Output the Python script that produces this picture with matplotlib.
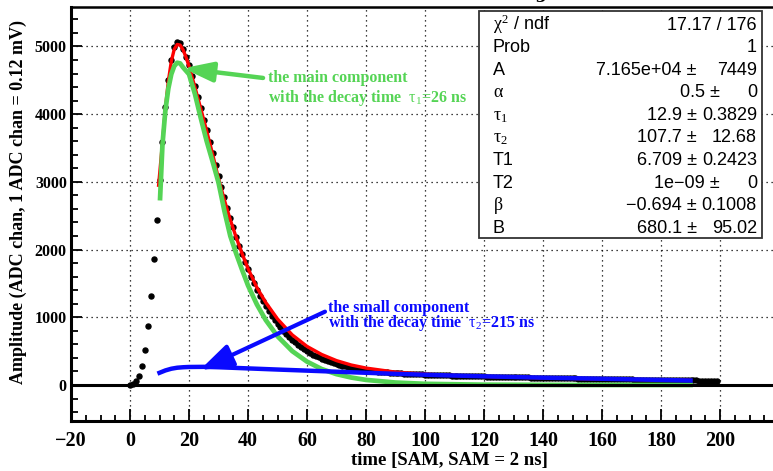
import numpy as np
import matplotlib
matplotlib.use('Agg')
import matplotlib.pyplot as plt
from matplotlib.patches import Rectangle

plt.rcParams['mathtext.fontset'] = 'custom'
plt.rcParams['mathtext.rm'] = 'Liberation Serif'
plt.rcParams['mathtext.it'] = 'Liberation Serif'
plt.rcParams['mathtext.bf'] = 'Liberation Serif:bold'

# ---- data ----
sam = list(range(200))
amp = [5, 18, 59, 133, 281, 517, 867, 1319, 1861, 2432,
       3030, 3590, 4100, 4510, 4800, 4990, 5060, 5050, 4970, 4850,
       4720, 4570, 4410, 4250, 4090, 3920, 3760, 3590, 3420, 3250,
       3090, 2930, 2770, 2620, 2470, 2330, 2190, 2060, 1940, 1820,
       1710, 1600, 1500, 1410, 1320, 1240, 1160, 1090, 1025, 965,
       905, 850, 800, 755, 710, 670, 630, 595, 560, 530,
       500, 475, 450, 428, 407, 388, 370, 353, 338, 323,
       310, 297, 285, 274, 264, 255, 246, 238, 231, 224,
       218, 212, 207, 202, 197, 193, 189, 185, 182, 178,
       175, 172, 170, 167, 165, 163, 161, 159, 157, 155,
       153, 151, 150, 148, 147, 146, 144, 143, 142, 140,
       139, 138, 136, 135, 134, 133, 131, 130, 129, 128,
       127, 125, 124, 123, 122, 121, 120, 119, 118, 117,
       116, 115, 114, 113, 112, 111, 110, 109, 108, 107,
       106, 105, 104, 103, 102, 101, 100, 99, 98, 98,
       97, 96, 95, 94, 93, 93, 92, 91, 90, 89,
       89, 88, 87, 86, 86, 85, 84, 83, 83, 82,
       81, 80, 80, 79, 78, 78, 77, 76, 76, 75,
       74, 74, 73, 72, 72, 71, 70, 70, 69, 69,
       68, 67, 67, 66, 66, 65, 65, 64, 64, 63]

# total fit (red)
fit_x = [9.7, 11, 12, 13, 14, 15, 16, 17, 18, 19, 20, 22, 24, 26, 28, 30,
         32, 34, 36, 38, 40, 43, 46, 50, 55, 60, 65, 70, 75, 80, 90, 100,
         110, 120, 140, 160, 190]
fit_tot = [2950, 3580, 4090, 4490, 4780, 4960, 5030, 5020, 4950, 4840, 4710,
           4400, 4080, 3750, 3410, 3050, 2730, 2440, 2180, 1940, 1720, 1440,
           1220, 975, 740, 570, 450, 360, 295, 250, 190, 160, 140, 126, 105,
           88, 68]

# main component (green)
main_x = [10.2, 11, 12, 13, 14, 15, 16, 17, 18, 20, 22, 24, 26, 28, 30, 32,
          34, 36, 38, 40, 43, 46, 50, 55, 60, 65, 70, 75, 80, 90, 100, 120,
          150, 190]
main_y = [2760, 3550, 4060, 4380, 4590, 4710, 4760, 4750, 4690, 4590, 4300,
          3940, 3600, 3300, 2990, 2570, 2200, 1940, 1700, 1470, 1190, 960,
          720, 500, 345, 235, 160, 110, 75, 36, 17, 4, 0, 0]

# small component (blue)
small_x = [10, 12, 14, 16, 18, 20, 25, 30, 40, 50, 60, 75, 90, 105, 120, 140,
           160, 190]
small_y = [180, 215, 240, 255, 262, 266, 268, 262, 245, 228, 212, 188, 165,
           145, 128, 108, 92, 66]

stat_names = [r'$\chi^2$ / ndf', 'Prob', 'A', r'$\alpha$', r'$\tau_1$',
              r'$\tau_2$', 'T1', 'T2', r'$\beta$', 'B']
stat_vals = ['17.17 / 176', '1', '7.165e+04', '0.5', '12.9', '107.7',
             '6.709', '1e\u221209', '\u22120.694', '680.1']
stat_errs = [None, None, '7449', '0', '0.3829', '12.68', '0.2423', '0',
             '0.1008', '95.02']

W, H = 773, 471
def fx(p):
    return p / W
def fy(p):
    return 1 - p / H

fig = plt.figure(figsize=(W / 100, H / 100), dpi=100)
ax = fig.add_axes([fx(71), fy(421), (779 - 71) / W, (421 - 7) / H])
ax.set_xlim(-20, 220)
ax.set_ylim(-532, 5583)

serif = 'Liberation Serif'
sans = 'Liberation Sans'

ax.grid(True, which='major', linestyle=(0, (1, 3)), color='k', lw=0.9)
ax.set_axisbelow(True)
ax.set_xticks(range(-20, 201, 20))
ax.set_xticks(range(-20, 221, 5), minor=True)
ax.set_yticks(range(0, 5001, 1000))
ax.set_yticks(range(-400, 5600, 200), minor=True)
ax.tick_params(which='both', direction='in', width=1.3, colors='k')
ax.tick_params(axis='x', which='major', length=9, pad=7)
ax.tick_params(axis='x', which='minor', length=4.5)
ax.tick_params(axis='y', which='major', length=8, pad=3)
ax.tick_params(axis='y', which='minor', length=5)
ax.set_xticklabels(['\u221220'] + [str(v) for v in range(0, 201, 20)])
for lab in ax.get_xticklabels():
    lab.set_fontfamily(serif)
    lab.set_fontweight('bold')
    lab.set_fontsize(14.5)
for lab in ax.get_yticklabels():
    lab.set_fontfamily(serif)
    lab.set_fontweight('bold')
    lab.set_fontsize(11.5)

ax.spines['right'].set_visible(False)
ax.spines['left'].set_linewidth(2.2)
ax.spines['bottom'].set_linewidth(2.2)
ax.spines['top'].set_linewidth(1.8)

ax.plot(sam, amp, 'o', color='k', ms=3.6, zorder=3)
ax.plot(fit_x, fit_tot, color='red', lw=2.4, zorder=4)
ax.plot(main_x, main_y, color='#55d455', lw=3.4, zorder=5)
ax.axhline(0, color='k', lw=2.2, zorder=6)
ax.plot(small_x, small_y, color='#0a0aff', lw=3.2, zorder=7)

ax.annotate('', xy=(18.0, 4678), xytext=(45.1, 4535),
            arrowprops=dict(arrowstyle='-|>,head_length=0.9,head_width=0.3',
                            color='#55d455', lw=3.2, mutation_scale=20,
                            shrinkA=0, shrinkB=0), zorder=8)
ax.annotate('', xy=(23.7, 222), xytext=(66.1, 1083),
            arrowprops=dict(arrowstyle='-|>,head_length=1.0,head_width=0.35',
                            color='#0a0aff', lw=3.0, mutation_scale=20,
                            shrinkA=0, shrinkB=0), zorder=8)

fig.text(fx(268), fy(82), 'the main component', color='#55d455',
         fontfamily=serif, fontweight='bold', fontsize=11.5, va='baseline')
fig.text(fx(268), fy(102), r'with the decay time  $\tau_1$=26 ns',
         color='#55d455', fontfamily=serif, fontweight='bold', fontsize=11.5,
         va='baseline')
fig.text(fx(328), fy(312), 'the small component', color='#0a0aff',
         fontfamily=serif, fontweight='bold', fontsize=11.5, va='baseline')
fig.text(fx(328), fy(327), r'with the decay time  $\tau_2$=215 ns',
         color='#0a0aff', fontfamily=serif, fontweight='bold', fontsize=11.5,
         va='baseline')

fig.text(fx(18), fy(20), 'Amplitude (ADC chan, 1 ADC chan = 0.12 mV)',
         rotation=90, ha='center', va='top', fontfamily=serif,
         fontweight='bold', fontsize=13)
fig.text(fx(548), fy(460), 'time [SAM, SAM = 2 ns]', ha='right', va='center',
         fontfamily=serif, fontweight='bold', fontsize=13.5)
fig.text(fx(540), fy(-3), '3', ha='center', va='center', fontfamily=serif,
         fontweight='bold', fontsize=14)

# stats box
fig.add_artist(Rectangle((fx(479), fy(238)), (762 - 479) / W, (238 - 11) / H,
                         transform=fig.transFigure, facecolor='white',
                         edgecolor='#333333', lw=1.3, zorder=9))
pm_end = [None, None, 697, 720, 697, 697, 697, 720, 697, 697]
for i in range(10):
    yb = fy(23 + 22.6 * i + 6.5)
    fig.text(fx(493), yb, stat_names[i], fontfamily=sans, fontsize=13,
             va='baseline', zorder=10)
    if stat_errs[i] is None:
        fig.text(fx(757), yb, stat_vals[i], fontfamily=sans, fontsize=13,
                 ha='right', va='baseline', zorder=10)
    else:
        fig.text(fx(pm_end[i]), yb, stat_vals[i] + ' \u00b1', fontfamily=sans,
                 fontsize=13, ha='right', va='baseline', zorder=10)
        fig.text(fx(757), yb, stat_errs[i], fontfamily=sans, fontsize=13,
                 ha='right', va='baseline', zorder=10)

fig.savefig('out.png', dpi=100)
